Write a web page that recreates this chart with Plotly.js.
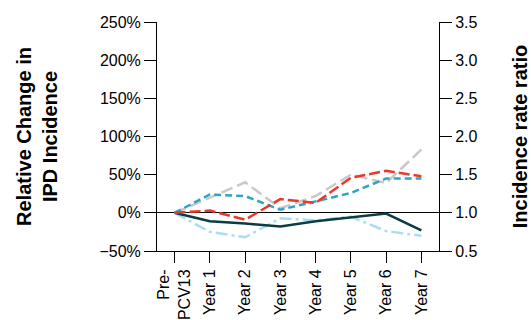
<!DOCTYPE html>
<html>
<head>
<meta charset="utf-8">
<script src="https://cdn.plot.ly/plotly-3.0.1.min.js"></script>
<style>
  html, body { margin: 0; padding: 0; background: #fff; }
  #chart { width: 531px; height: 320px; }
</style>
</head>
<body>
<div id="chart"></div>
<script>
// Period categories along the x axis
const periods = ["Pre-<br>PCV13", "Year 1", "Year 2", "Year 3", "Year 4", "Year 5", "Year 6", "Year 7"];

// Relative change in IPD incidence (%) for each series
const redSeries       = [0, 3, -9, 18, 13, 46, 55, 48];
const graySeries      = [0, 20, 40, 6, 22, 50, 39, 83];
const tealSeries      = [0, 24, 22, 4, 15, 26, 45, 45];
const darkSeries      = [0, -11, -14, -18, -11, -6, -1, -23];
const lightBlueSeries = [0, -25, -32, -7, -10, -5, -24, -30];

// Tick labels
const leftTicks  = [-50, 0, 50, 100, 150, 200, 250];
const leftLabels = ["\u221250%", "0%", "50%", "100%", "150%", "200%", "250%"];
const rightTicks = [0.5, 1.0, 1.5, 2.0, 2.5, 3.0, 3.5];

const xIdx = periods.map((_, i) => i);

function series(y, color, dash, width) {
  return {
    x: xIdx, y: y, type: "scatter", mode: "lines",
    line: { color: color, dash: dash, width: width },
    hoverinfo: "skip", showlegend: false
  };
}

const traces = [
  series(lightBlueSeries, "#a8def2", "12px,4px,3px,4px", 2.5),
  series(darkSeries, "#0b3c46", "solid", 2.5),
  series(graySeries, "#c9c9c9", "12px,5px", 2.5),
  series(tealSeries, "#2ea4c6", "7px,4px", 2.5),
  series(redSeries, "#e8392a", "11px,4px", 2.5),
  // invisible trace to carry the right-hand ratio axis
  { x: [0], y: [1], yaxis: "y2", type: "scatter", mode: "markers",
    marker: { opacity: 0 }, hoverinfo: "skip", showlegend: false }
];

const font = { family: "Liberation Sans, Arial, sans-serif", color: "#000" };
const tickFont = { family: font.family, size: 16, color: "#000" };
const titleFont = { family: font.family, size: 20, color: "#000" };

const layout = {
  width: 531, height: 320,
  margin: { l: 157, r: 92, t: 22, b: 69, pad: 0 },
  paper_bgcolor: "#fff", plot_bgcolor: "#fff",
  font: font,
  showlegend: false,
  xaxis: {
    range: [-0.5, 7.5],
    tickvals: xIdx, ticktext: periods,
    tickangle: -90,
    ticks: "outside", ticklen: 11, tickwidth: 1, tickcolor: "#000",
    showline: true, linecolor: "#000", linewidth: 1,
    showgrid: false, zeroline: false,
    tickfont: tickFont,
    fixedrange: true
  },
  yaxis: {
    range: [-50, 250],
    tickvals: leftTicks, ticktext: leftLabels,
    ticks: "outside", ticklen: 12, tickwidth: 1, tickcolor: "#000",
    showline: true, linecolor: "#000", linewidth: 1,
    showgrid: false,
    zeroline: true, zerolinecolor: "#000", zerolinewidth: 1,
    tickfont: tickFont,
    title: { text: "<b>Relative Change in<br>IPD Incidence</b>",
             font: titleFont, standoff: 36 },
    fixedrange: true
  },
  yaxis2: {
    overlaying: "y", side: "right",
    range: [0.5, 3.5],
    tickvals: rightTicks, tickformat: ".1f",
    ticks: "outside", ticklen: 12, tickwidth: 1, tickcolor: "#000",
    showline: true, linecolor: "#000", linewidth: 1,
    showgrid: false, zeroline: false,
    tickfont: tickFont,
    title: { text: "<b>Incidence rate ratio</b>",
             font: titleFont, standoff: 36 },
    fixedrange: true
  }
};

Plotly.newPlot("chart", traces, layout, { displayModeBar: false, staticPlot: true });
</script>
</body>
</html>
